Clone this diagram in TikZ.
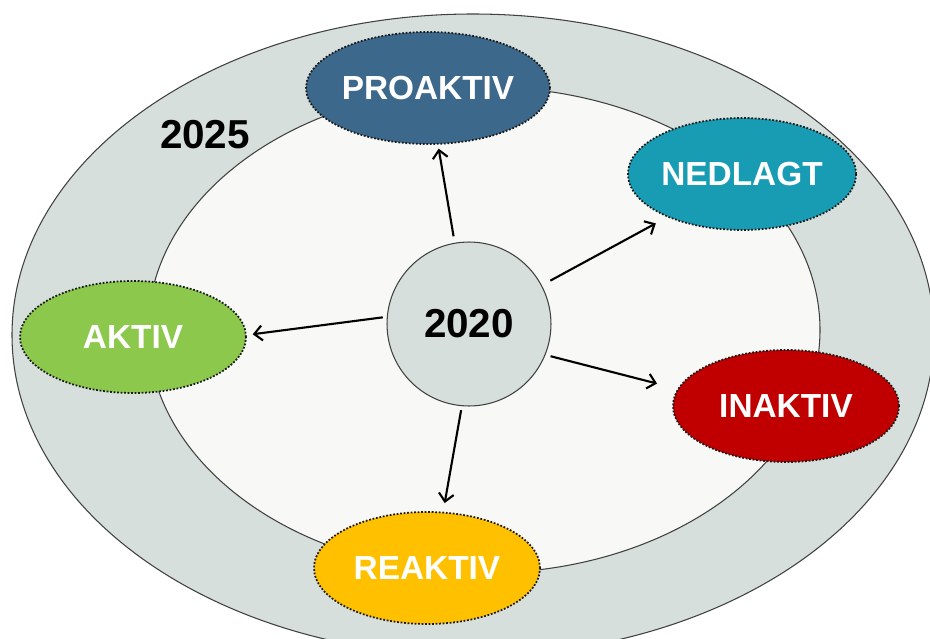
\documentclass[tikz,border=0pt]{standalone}
\usepackage{fontspec}
\setmainfont{Liberation Sans}
\usepackage{tikz}
\usetikzlibrary{shapes, arrows.meta, calc}

\definecolor{ringgray}{RGB}{214,223,219}
\definecolor{innerwhite}{RGB}{248,249,246}
\definecolor{problue}{RGB}{60,104,140}
\definecolor{nedteal}{RGB}{24,156,180}
\definecolor{aktgreen}{RGB}{140,200,75}
\definecolor{inared}{RGB}{192,0,0}
\definecolor{reayellow}{RGB}{255,192,0}

\begin{document}
\begin{tikzpicture}[x=0.02cm, y=-0.02cm, >={Straight Barb[length=4.5pt, width=8.5pt]}, line width=1.2pt]
    \tikzstyle{state} = [ellipse, draw=black!90, densely dotted, line width=1pt, minimum width=4.52cm, minimum height=2.24cm, inner sep=0pt, text=white, font=\bfseries\fontsize{19}{22}\selectfont]
    \tikzstyle{year} = [font=\bfseries\fontsize{23}{26}\selectfont]
    \tikzstyle{ring} = [draw=black!75, line width=0.6pt]

    \useasboundingbox (0,0) rectangle (930,639);
    \fill[white] (0,0) rectangle (930,639);

    % Rings
    \begin{scope}
        \clip (0,0) rectangle (930,639);
        \draw[ring, fill=ringgray] (473,335) ellipse [x radius=461, y radius=321];
        \draw[ring, fill=innerwhite] (484,330) ellipse [x radius=336, y radius=243];
    \end{scope}

    \node[circle, ring, fill=ringgray, minimum size=3.28cm, year] (now) at (469,324) {2020};
    \node[year] (later) at (205,135) {2025};

    \node[state, fill=problue] (pro) at (428,88) {PROAKTIV};
    \node[state, fill=nedteal] (ned) at (742,174) {NEDLAGT};
    \node[state, fill=aktgreen] (akt) at (133,337) {AKTIV};
    \node[state, fill=inared] (ina) at (786,406) {INAKTIV};
    \node[state, fill=reayellow] (rea) at (427,568) {REAKTIV};

    % Connections
    \draw[->, shorten <=3.7pt, shorten >=2.3pt] (now.100) -- (pro.-80);
    \draw[->, shorten <=5.5pt, shorten >=7.4pt] (now.28) -- (ned.210);
    \draw[->, shorten <=2.3pt, shorten >=3.4pt] (now.175) -- (akt.1);
    \draw[->, shorten <=3pt, shorten >=12pt] (now.-22) -- (ina.171);
    \draw[->, shorten <=2.3pt, shorten >=5pt] (now.-95) -- (rea.74);
\end{tikzpicture}
\end{document}
